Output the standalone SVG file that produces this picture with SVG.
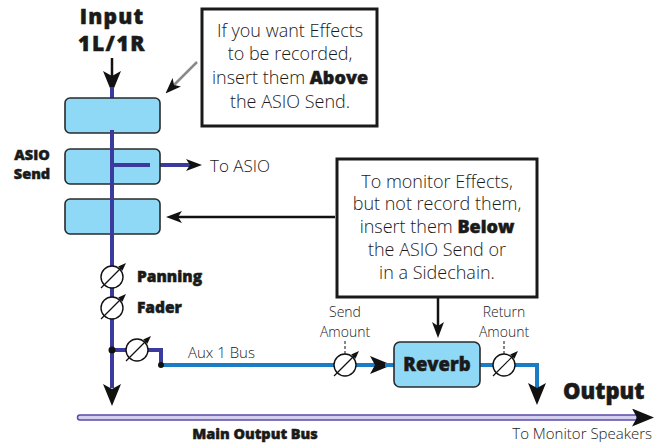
<svg xmlns="http://www.w3.org/2000/svg" width="656" height="444" viewBox="0 0 656 444">
<style>
.t{font-family:"Open Sans","DejaVu Sans",sans-serif;fill:#1a1a1a}
.r{font-size:18px;font-weight:300}
.s{font-size:14px;font-weight:300}
.b{font-weight:800;stroke:#1a1a1a;stroke-width:0.5}
.box{fill:#8fd9f7;stroke:#2a2a2a;stroke-width:1.6}
.call{fill:#fff;stroke:#1a1a1a;stroke-width:3}
.sig{fill:none;stroke:#3b3a9e;stroke-width:4}
.aux{fill:none;stroke:#1b7cc6;stroke-width:4}
.blk{fill:none;stroke:#111;stroke-width:2.5}
</style>
<defs>
<marker id="big" markerUnits="userSpaceOnUse" viewBox="0 0 22 18" markerWidth="22" markerHeight="18" refX="5" refY="9" orient="auto"><path d="M0,0 L22,9 L0,18 L5,9 z" fill="#111"/></marker>
<marker id="sm" markerUnits="userSpaceOnUse" viewBox="0 0 16 12" markerWidth="16" markerHeight="12" refX="4" refY="6" orient="auto"><path d="M0,0 L16,6 L0,12 L4,6 z" fill="#111"/></marker>
<marker id="smg" markerUnits="userSpaceOnUse" viewBox="0 0 16 12" markerWidth="16" markerHeight="12" refX="4" refY="6" orient="auto"><path d="M0,0 L16,6 L0,12 L4,6 z" fill="#111"/></marker>
<marker id="tiny" markerUnits="userSpaceOnUse" viewBox="0 0 8 6" markerWidth="8" markerHeight="6" refX="1" refY="3" orient="auto"><path d="M0,0 L8,3 L0,6 z" fill="#111"/></marker>
<g id="knob"><circle r="11" fill="#fff" stroke="#111" stroke-width="1.4"/><line x1="-11" y1="11" x2="9" y2="-9" stroke="#111" stroke-width="1.2" marker-end="url(#tiny)"/></g>
</defs>

<g id="connectors">
<line x1="112" y1="58" x2="112" y2="76" class="blk" marker-end="url(#big)"/>
<line x1="112" y1="87" x2="112" y2="388" class="sig"/>
<line x1="112" y1="388" x2="112" y2="389" stroke="#111" stroke-width="0.1" marker-end="url(#big)"/>
<line x1="112" y1="165" x2="190" y2="165" class="sig" marker-end="url(#sm)"/>
<line x1="197" y1="62" x2="174" y2="85" stroke="#8a8a8a" stroke-width="2.5" marker-end="url(#smg)"/>
<line x1="335" y1="217" x2="178" y2="217" class="blk" marker-end="url(#sm)"/>
<line x1="438" y1="298" x2="438" y2="326" class="blk" marker-end="url(#sm)"/>
<path d="M112,350 H161 V365" class="sig"/>
<path d="M161,365 H375" class="aux" marker-end="url(#big)"/>
<line x1="385" y1="365" x2="394" y2="365" class="aux"/>
<path d="M480,365 H537 V388" class="aux" marker-end="url(#big)"/>
<line x1="345" y1="341" x2="345" y2="354" stroke="#111" stroke-width="1" stroke-dasharray="3,2"/>
<line x1="504" y1="341" x2="504" y2="354" stroke="#111" stroke-width="1" stroke-dasharray="3,2"/>
<circle cx="112" cy="350" r="3.5" fill="#111"/>
<circle cx="161" cy="365" r="3" fill="#111"/>
</g>

<g id="main-bus">
<path d="M80,415 H637 V420 H80 A2.5,2.5 0 0 1 80,415 z" fill="#d6d0f0" stroke="#5a4aa8" stroke-width="1.5"/>
<line x1="636" y1="417.5" x2="637" y2="417.5" stroke="#111" stroke-width="0.1" marker-end="url(#big)"/>
<text class="t b" x="255" y="439" text-anchor="middle" font-size="14.5">Main Output Bus</text>
<text class="t" x="652" y="439" text-anchor="end" font-size="15" font-weight="300">To Monitor Speakers</text>
</g>

<g id="input"><text class="t b" x="112" y="24" text-anchor="middle" font-size="21" letter-spacing="1.2">Input</text><text class="t b" x="112" y="51" text-anchor="middle" font-size="21" letter-spacing="1.5">1L/1R</text></g>

<g id="slot1"><rect class="box" x="65" y="98" width="95" height="35" rx="5"/></g>
<g id="asio-send"><rect class="box" x="65" y="149" width="95" height="35" rx="5"/><text class="t b" x="32" y="160" text-anchor="middle" font-size="14.5">ASIO</text><text class="t b" x="32" y="179" text-anchor="middle" font-size="14.5">Send</text></g>
<g id="slot3"><rect class="box" x="65" y="199" width="95" height="35" rx="5"/></g>
<line x1="112" y1="130" x2="112" y2="237" class="sig"/>
<line x1="112" y1="165" x2="150" y2="165" class="sig"/>
<g id="to-asio"><text class="t" x="210" y="172" font-size="17" font-weight="300">To ASIO</text></g>

<g id="callout-above"><rect class="call" x="202" y="9" width="175" height="117"/>
<text class="t r" x="290" y="37" text-anchor="middle">If you want Effects</text>
<text class="t r" x="290" y="60" text-anchor="middle">to be recorded,</text>
<text class="t r" x="290" y="84" text-anchor="middle">insert them <tspan class="b">Above</tspan></text>
<text class="t r" x="290" y="108" text-anchor="middle">the ASIO Send.</text></g>

<g id="callout-below"><rect class="call" x="337" y="159" width="200" height="138"/>
<text class="t r" x="437" y="188" text-anchor="middle">To monitor Effects,</text>
<text class="t r" x="437" y="210" text-anchor="middle">but not record them,</text>
<text class="t r" x="437" y="233" text-anchor="middle">insert them <tspan class="b">Below</tspan></text>
<text class="t r" x="437" y="256" text-anchor="middle">the ASIO Send or</text>
<text class="t r" x="437" y="279" text-anchor="middle">in a Sidechain.</text></g>

<g id="panning"><use href="#knob" x="112" y="277"/><text class="t b" x="137" y="282" font-size="15.5">Panning</text></g>
<g id="fader"><use href="#knob" x="112" y="308"/><text class="t b" x="137" y="313" font-size="15.5">Fader</text></g>
<g id="aux-send"><use href="#knob" x="137" y="350"/><text class="t" x="188" y="358" font-size="15" font-weight="300">Aux 1 Bus</text></g>
<g id="send-amount"><use href="#knob" x="345" y="365"/><text class="t s" x="345" y="317" text-anchor="middle">Send</text><text class="t s" x="345" y="337" text-anchor="middle">Amount</text></g>
<g id="reverb"><rect class="box" x="394" y="342" width="86" height="45" rx="6" stroke-width="2"/><text class="t b" x="437" y="371" text-anchor="middle" font-size="18.5">Reverb</text></g>
<g id="return-amount"><use href="#knob" x="504" y="365"/><text class="t s" x="504" y="317" text-anchor="middle">Return</text><text class="t s" x="504" y="337" text-anchor="middle">Amount</text></g>
<g id="output"><text class="t b" x="563" y="399" font-size="22">Output</text></g>
</svg>
